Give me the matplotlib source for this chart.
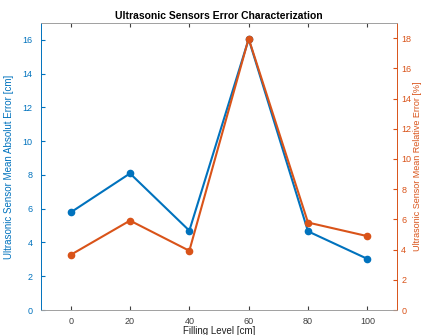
# Ultrasonic sensors error characterization

import matplotlib.pyplot as plt

plt.rcParams['font.family'] = ['Liberation Sans', 'DejaVu Sans']

level = [0, 20, 40, 60, 80, 100]
abs_err = [5.78, 8.09, 4.70, 16.05, 4.66, 3.03]   # cm
rel_err = [3.65, 5.92, 3.92, 17.97, 5.79, 4.89]   # %

blue = '#0072BD'
orange = '#D95319'
gray = '#A0A0A0'

fig = plt.figure(figsize=(4.25, 3.35), dpi=100)
ax = fig.add_axes([41/425, 25/335, 356/425, 287/335])
ax2 = ax.twinx()

ax.plot(level, abs_err, color=blue, marker='o', markersize=4.5, linewidth=1.5)
ax2.plot(level, rel_err, color=orange, marker='o', markersize=4.5, linewidth=1.5)

ax.set_xlim(-10, 110)
ax.set_ylim(0, 17)
ax2.set_ylim(0, 19)
ax.set_xticks(level)
ax.set_yticks(range(0, 17, 2))
ax2.set_yticks(range(0, 19, 2))

ax.tick_params(axis='x', direction='in', top=True, length=3, labelsize=6.5,
               colors='#404040', pad=5)
ax.tick_params(axis='y', direction='in', length=3, labelsize=6.5,
               colors=blue, pad=6)
ax2.tick_params(axis='y', direction='in', length=3, labelsize=6.5,
                colors=orange, pad=3)

for a in (ax, ax2):
    a.spines['top'].set_color(gray)
    a.spines['bottom'].set_color(gray)
    a.spines['left'].set_color(blue)
    a.spines['right'].set_color(orange)
    for s in a.spines.values():
        s.set_linewidth(0.6)

ax.set_xlabel('Filling Level [cm]', fontsize=7, color='#202020', labelpad=0)
ax.xaxis.set_label_coords(0.5, -0.055)
ax.set_ylabel('Ultrasonic Sensor Mean Absolut Error [cm]', fontsize=7, color=blue, labelpad=6)
ax2.set_ylabel('Ultrasonic Sensor Mean Relative Error [%]', fontsize=6.5, color=orange,
               rotation=90, ha='center', va='center')
ax2.yaxis.set_label_coords((418 - 41) / 356, 0.5)
ax.set_title('Ultrasonic Sensors Error Characterization', fontsize=7.5,
             fontweight='bold', pad=3)

plt.savefig('out.png', dpi=100)
